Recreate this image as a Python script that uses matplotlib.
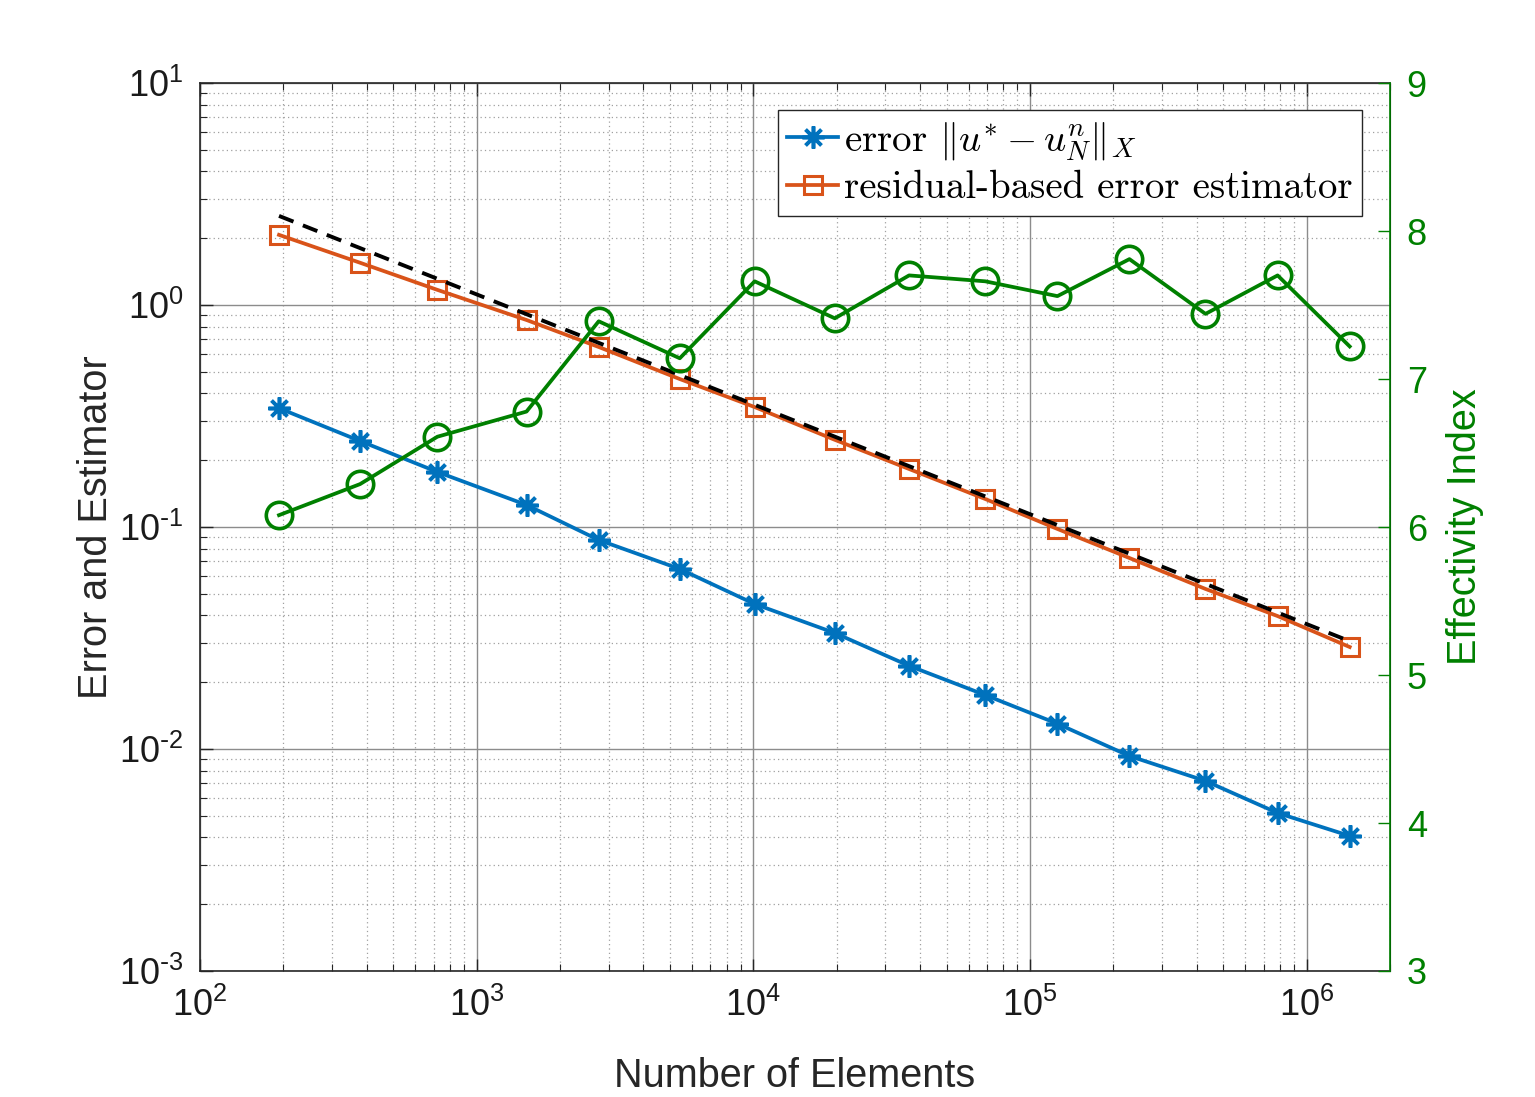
import numpy as np
import matplotlib.pyplot as plt
from matplotlib.font_manager import FontProperties
from matplotlib.ticker import LogLocator, MultipleLocator, NullFormatter, FuncFormatter

plt.rcParams['font.family'] = ['Liberation Sans', 'DejaVu Sans']
plt.rcParams['axes.unicode_minus'] = False

# number of elements per refinement step
n_elem = [193, 379, 721, 1514, 2761, 5420, 10110, 19700, 36550, 68900,
          125600, 228700, 430700, 785000, 1430000]
# true error ||u* - u_N^n||_X
err = [0.343, 0.244, 0.177, 0.1257, 0.0874, 0.0647, 0.045, 0.0333, 0.0237,
       0.0175, 0.0130, 0.0093, 0.00718, 0.00515, 0.00406]
# residual-based estimator
est = [2.07, 1.55, 1.17, 0.856, 0.647, 0.464, 0.347, 0.247, 0.1825, 0.1337,
       0.098, 0.0725, 0.0526, 0.0397, 0.0288]
# effectivity index (right axis)
eff = [6.08, 6.29, 6.61, 6.78, 7.39, 7.14, 7.66, 7.41, 7.70, 7.66, 7.56,
       7.81, 7.44, 7.70, 7.22]
# reference slope line endpoints
ref_x = [193, 1430000]
ref_y = [2.52, 0.0306]

blue = '#0072BD'
orange = '#D95319'
green = '#008000'
dark = '#262626'


def pow10(v, pos):
    # matlab style 10^-1 with a short hyphen
    e = int(round(np.log10(v)))
    s = str(abs(e))
    if e < 0:
        s = r'\text{-}' + s
    return r'$\mathdefault{10^{%s}}$' % s


fig = plt.figure(figsize=(15.35, 10.97), dpi=100)
ax = fig.add_axes([200/1535, 1-971/1097, 1190/1535, 888/1097])

ax.loglog(n_elem, err, color=blue, lw=2.7, marker=(8, 2, 0), ms=16, mew=2.6,
          label=r'error $\|u^{*}-u_{N}^{n}\|_{X}$')
ax.loglog(n_elem, est, color=orange, lw=2.7, marker='s', ms=13, mew=2.2,
          mfc='none', label='residual-based error estimator')
ax.loglog(ref_x, ref_y, color='black', lw=2.8, linestyle=(0, (4, 2.6)))

ax.set_xlim(1e2, 2e6)
ax.set_ylim(1e-3, 1e1)
ax.xaxis.set_major_locator(LogLocator(base=10, numticks=20))
ax.xaxis.set_minor_locator(LogLocator(base=10, subs=np.arange(2, 10), numticks=20))
ax.yaxis.set_major_locator(LogLocator(base=10, numticks=20))
ax.yaxis.set_minor_locator(LogLocator(base=10, subs=np.arange(2, 10), numticks=20))
ax.xaxis.set_major_formatter(FuncFormatter(pow10))
ax.yaxis.set_major_formatter(FuncFormatter(pow10))
ax.xaxis.set_minor_formatter(NullFormatter())
ax.yaxis.set_minor_formatter(NullFormatter())

ax.grid(True, which='major', color='#8c8c8c', lw=1.0, ls='-')
ax.grid(True, which='minor', color='#a0a0a0', lw=0.9, ls=(0, (1, 2.5)))
ax.set_axisbelow(True)

ax.tick_params(which='both', direction='in', top=True, right=False,
               labelsize=26, colors=dark, labelcolor='#1a1a1a')
ax.tick_params(which='major', length=9, width=1.0, pad=12)
ax.tick_params(which='minor', length=5, width=0.8)
for s in ['left', 'bottom', 'top']:
    ax.spines[s].set_color(dark)
    ax.spines[s].set_linewidth(1.2)

ax.set_xlabel('Number of Elements', fontsize=28.5, color=dark, labelpad=24)
ax.set_ylabel('Error and Estimator', fontsize=28.5, color=dark, labelpad=3)

leg_font = FontProperties(family='cmr10', size=28, math_fontfamily='cm')
leg = ax.legend(loc='upper right', bbox_to_anchor=(0.9765, 0.9696),
                borderaxespad=0, prop=leg_font, frameon=True, fancybox=False,
                edgecolor=dark, handlelength=1.3, handletextpad=0.15,
                borderpad=0.25, labelspacing=0.2, framealpha=1)
leg.get_frame().set_linewidth(1.0)

ax2 = ax.twinx()
ax2.plot(n_elem, eff, color=green, lw=2.7, marker='o', ms=19, mew=2.6,
         mfc='none')
ax2.set_ylim(3, 9)
ax2.yaxis.set_major_locator(MultipleLocator(1))
ax2.tick_params(axis='y', direction='in', length=9, width=1.0, colors=green,
                labelsize=26, pad=12)
ax2.spines['right'].set_color(green)
ax2.spines['right'].set_linewidth(1.2)
for s in ['left', 'top', 'bottom']:
    ax2.spines[s].set_visible(False)
ax2.set_ylabel('Effectivity Index', fontsize=28.5, color=green, labelpad=14)

fig.savefig('out.png', dpi=100)
